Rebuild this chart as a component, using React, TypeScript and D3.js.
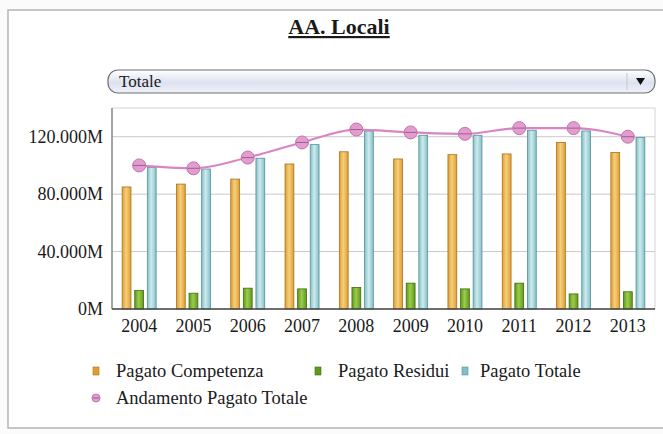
import React, { useEffect, useRef } from 'react';
import * as d3 from 'd3';

const years = ['2004', '2005', '2006', '2007', '2008', '2009', '2010', '2011', '2012', '2013'];
const pagatoCompetenza = [85, 87, 90.5, 101, 109.5, 104.5, 107.5, 108, 116, 109];
const pagatoResidui = [13, 11, 14.5, 14, 15, 18, 14, 18, 10.5, 12];
const pagatoTotale = [98.5, 97.5, 105, 114.5, 124, 121, 121, 124.5, 124, 119.5];
const andamentoTotale = [100, 98, 105.5, 116, 125, 123, 122, 126, 126, 120];
const yTicks = [0, 40, 80, 120];

const seriesNames = ['Pagato Competenza', 'Pagato Residui', 'Pagato Totale'];
const seriesColors = [
  { fill: '#e09e30', light: '#f5cf7e', stroke: '#a8731c' },
  { fill: '#5e9a1c', light: '#9dcb4c', stroke: '#3f6c0e' },
  { fill: '#84bfc5', light: '#cdebee', stroke: '#55939a' },
];
const lineName = 'Andamento Pagato Totale';

const W = 663;
const H = 434;

const App: React.FC = () => {
  const svgRef = useRef<SVGSVGElement>(null);

  useEffect(() => {
    if (!svgRef.current) return;
    const svg = d3.select(svgRef.current);
    svg.selectAll('*').remove();

    const font = '"Liberation Serif", "Times New Roman", serif';
    const margin = { top: 108, right: 8, bottom: 125, left: 112 };
    const chartWidth = W - margin.left - margin.right;
    const chartHeight = 309 - margin.top;

    const defs = svg.append('defs');
    seriesColors.forEach((c, i) => {
      const grad = defs.append('linearGradient')
        .attr('id', `bar-grad-${i}`)
        .attr('x1', '0%').attr('x2', '100%').attr('y1', '0%').attr('y2', '0%');
      grad.append('stop').attr('offset', '0%').attr('stop-color', c.fill);
      grad.append('stop').attr('offset', '45%').attr('stop-color', c.light);
      grad.append('stop').attr('offset', '100%').attr('stop-color', c.fill);
    });
    const ddGrad = defs.append('linearGradient')
      .attr('id', 'dd-grad')
      .attr('x1', '0%').attr('x2', '0%').attr('y1', '0%').attr('y2', '100%');
    ddGrad.append('stop').attr('offset', '0%').attr('stop-color', '#ffffff');
    ddGrad.append('stop').attr('offset', '55%').attr('stop-color', '#dde2f0');
    ddGrad.append('stop').attr('offset', '100%').attr('stop-color', '#eff1f7');

    // background + outer frame
    svg.append('rect').attr('width', W).attr('height', H).attr('fill', '#fbfbfb');
    svg.append('rect')
      .attr('x', 8).attr('y', 10)
      .attr('width', W).attr('height', 418)
      .attr('fill', '#ffffff')
      .attr('stroke', '#b5b5b5')
      .attr('stroke-width', 1.5);

    // title
    svg.append('text')
      .attr('x', 339).attr('y', 34)
      .attr('text-anchor', 'middle')
      .attr('text-decoration', 'underline')
      .style('font-family', font)
      .style('font-size', '22px')
      .style('font-weight', 'bold')
      .style('fill', '#1a1a1a')
      .style('text-decoration', 'underline')
      .text('AA. Locali');

    // dropdown
    svg.append('rect')
      .attr('x', 108).attr('y', 70)
      .attr('width', 547).attr('height', 23)
      .attr('rx', 10)
      .attr('fill', 'url(#dd-grad)')
      .attr('stroke', '#6f6f6f')
      .attr('stroke-width', 1.2);
    svg.append('text')
      .attr('x', 119).attr('y', 87)
      .style('font-family', font)
      .style('font-size', '17px')
      .style('fill', '#1a1a1a')
      .text('Totale');
    svg.append('line')
      .attr('x1', 627).attr('x2', 627).attr('y1', 73).attr('y2', 90)
      .attr('stroke', '#c3c7d2');
    svg.append('path')
      .attr('d', 'M636,78 L645,78 L640.5,85 Z')
      .attr('fill', '#111');

    const g = svg.append('g')
      .attr('transform', `translate(${margin.left}, ${margin.top})`);

    const xScale = d3.scaleBand<string>()
      .domain(years)
      .range([0, chartWidth]);

    const xInner = d3.scaleBand<string>()
      .domain(seriesNames)
      .range([-17, 17])
      .paddingInner(0.3);

    const yScale = d3.scaleLinear()
      .domain([0, 140])
      .range([chartHeight, 0]);

    // plot border
    g.append('rect')
      .attr('width', chartWidth).attr('height', chartHeight)
      .attr('fill', '#fff')
      .attr('stroke', '#d4d4d4');

    // gridlines
    g.selectAll('.grid')
      .data(yTicks.filter(t => t > 0))
      .enter().append('line')
      .attr('class', 'grid')
      .attr('x1', 0).attr('x2', chartWidth)
      .attr('y1', d => yScale(d)).attr('y2', d => yScale(d))
      .attr('stroke', '#c9c9c9');

    // bars
    const seriesData = [pagatoCompetenza, pagatoResidui, pagatoTotale];
    seriesData.forEach((vals, si) => {
      g.selectAll(`.bar-${si}`)
        .data(vals)
        .enter().append('rect')
        .attr('class', `bar-${si}`)
        .attr('x', (_d, i) => (xScale(years[i]) || 0) + xScale.bandwidth() / 2 + (xInner(seriesNames[si]) || 0))
        .attr('width', xInner.bandwidth())
        .attr('y', d => yScale(d))
        .attr('height', d => chartHeight - yScale(d))
        .attr('fill', `url(#bar-grad-${si})`)
        .attr('stroke', seriesColors[si].stroke)
        .attr('stroke-width', 0.8);
    });

    // axes lines
    g.append('line')
      .attr('x1', 0).attr('x2', 0).attr('y1', 0).attr('y2', chartHeight)
      .attr('stroke', '#777').attr('stroke-width', 1.2);
    g.append('line')
      .attr('x1', 0).attr('x2', chartWidth).attr('y1', chartHeight).attr('y2', chartHeight)
      .attr('stroke', '#444').attr('stroke-width', 1.5);

    // y labels
    g.selectAll('.ylab')
      .data(yTicks)
      .enter().append('text')
      .attr('class', 'ylab')
      .attr('x', -9)
      .attr('y', d => yScale(d))
      .attr('dy', '0.35em')
      .attr('text-anchor', 'end')
      .style('font-family', font)
      .style('font-size', '18px')
      .style('fill', '#1a1a1a')
      .text(d => (d === 0 ? '0M' : `${d}.000M`));

    // x labels
    g.selectAll('.xlab')
      .data(years)
      .enter().append('text')
      .attr('class', 'xlab')
      .attr('x', d => (xScale(d) || 0) + xScale.bandwidth() / 2)
      .attr('y', chartHeight + 23)
      .attr('text-anchor', 'middle')
      .style('font-family', font)
      .style('font-size', '18px')
      .style('fill', '#1a1a1a')
      .text(d => d);

    // line
    const line = d3.line<number>()
      .x((_d, i) => (xScale(years[i]) || 0) + xScale.bandwidth() / 2)
      .y(d => yScale(d))
      .curve(d3.curveMonotoneX);
    g.append('path')
      .datum(andamentoTotale)
      .attr('d', line)
      .attr('fill', 'none')
      .attr('stroke', '#d985c4')
      .attr('stroke-width', 2.2);

    const markers = g.selectAll('.marker')
      .data(andamentoTotale)
      .enter().append('g')
      .attr('class', 'marker')
      .attr('transform', (d, i) => `translate(${(xScale(years[i]) || 0) + xScale.bandwidth() / 2}, ${yScale(d)})`);
    markers.append('circle')
      .attr('r', 6.5)
      .attr('fill', '#e29ccf')
      .attr('stroke', '#c176ad')
      .attr('stroke-width', 1);
    markers.append('line')
      .attr('x1', -6).attr('x2', 6).attr('y1', 0).attr('y2', 0)
      .attr('stroke', '#9e5f8e')
      .attr('stroke-width', 1);

    // legend
    const legendItems = [
      { x: 93, y: 371, name: seriesNames[0], color: seriesColors[0] },
      { x: 315, y: 371, name: seriesNames[1], color: seriesColors[1] },
      { x: 462, y: 371, name: seriesNames[2], color: seriesColors[2] },
    ];
    legendItems.forEach((item, i) => {
      svg.append('rect')
        .attr('x', item.x).attr('y', item.y - 4)
        .attr('width', 6).attr('height', 8)
        .attr('fill', item.color.fill)
        .attr('stroke', item.color.stroke)
        .attr('stroke-width', 0.6);
      svg.append('text')
        .attr('x', item.x + (i === 2 ? 18 : 23)).attr('y', item.y)
        .attr('dy', '0.35em')
        .style('font-family', font)
        .style('font-size', '18.5px')
        .style('fill', '#1a1a1a')
        .text(item.name);
    });
    svg.append('circle')
      .attr('cx', 96).attr('cy', 398).attr('r', 4)
      .attr('fill', '#e29ccf')
      .attr('stroke', '#c176ad');
    svg.append('line')
      .attr('x1', 92.5).attr('x2', 99.5).attr('y1', 398).attr('y2', 398)
      .attr('stroke', '#9e5f8e');
    svg.append('text')
      .attr('x', 116).attr('y', 398)
      .attr('dy', '0.35em')
      .style('font-family', font)
      .style('font-size', '18.5px')
      .style('fill', '#1a1a1a')
      .text(lineName);
  }, []);

  return (
    <svg
      ref={svgRef}
      width={W}
      height={H}
      style={{ position: 'absolute', left: 0, top: 0, display: 'block' }}
    />
  );
};

export default App;
